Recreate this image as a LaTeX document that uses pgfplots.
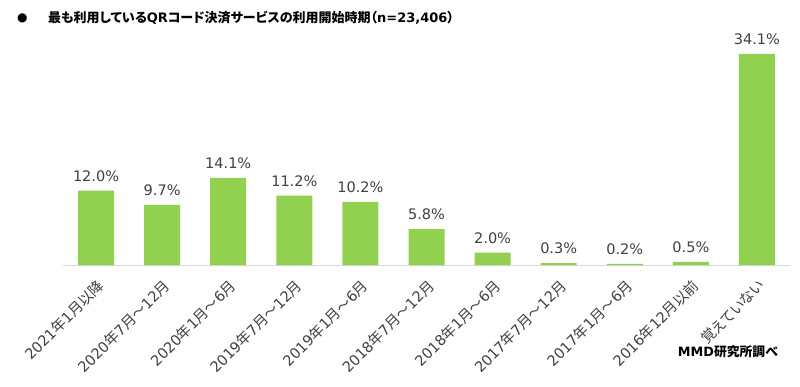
\documentclass[border=0pt]{standalone}
\usepackage{fontspec}
\setmainfont{DejaVu Sans}
\newfontfamily\cjk[RawFeature=+palt]{Noto Sans CJK JP}
\newcommand\J[1]{{\cjk #1}}
\usepackage{pgfplots}
\pgfplotsset{compat=1.18}
\definecolor{bargreen}{HTML}{92D050}
\definecolor{txt}{HTML}{404040}
\definecolor{axisgray}{HTML}{D9D9D9}
\begin{document}
\begin{tikzpicture}[x=1pt,y=1pt]
\path[use as bounding box] (0,0) rectangle (800,386);
\node[anchor=west, inner sep=0pt, font=\fontsize{12}{12}\selectfont] at (17,368) {●};
\node[anchor=west, inner sep=0pt, font=\fontsize{13}{13}\selectfont\bfseries] at (48,368)
  {\J{最も利用している}QR\J{コード決済サービスの利用開始時期（}n=23,406\J{）}};
\node[anchor=east, inner sep=0pt, font=\fontsize{12.8}{12.8}\selectfont\bfseries] at (778,34)
  {MMD\J{研究所調べ}};
\begin{axis}[
  at={(63pt,121pt)}, anchor=south west,
  scale only axis, width=727pt, height=211pt,
  xmin=-0.5, xmax=10.5, ymin=0, ymax=34.1,
  ybar, bar width=36pt, clip=false,
  axis y line=none, axis x line=bottom,
  x axis line style={draw=axisgray, line width=1pt, -},
  ytick=\empty,
  /pgf/number format/assume math mode=true,
  xtick={0,...,10}, major tick length=0pt,
  xticklabels={
    2021\J{年}1\J{月以降},
    2020\J{年}7\J{月～}12\J{月},
    2020\J{年}1\J{月～}6\J{月},
    2019\J{年}7\J{月～}12\J{月},
    2019\J{年}1\J{月～}6\J{月},
    2018\J{年}7\J{月～}12\J{月},
    2018\J{年}1\J{月～}6\J{月},
    2017\J{年}7\J{月～}12\J{月},
    2017\J{年}1\J{月～}6\J{月},
    2016\J{年}12\J{月以前},
    \J{覚えていない}},
  xticklabel style={font=\fontsize{14.5}{14.5}\selectfont, text=txt, xshift=5pt, rotate=45, anchor=east, inner sep=0pt},
  xticklabel shift=18pt,
  nodes near coords={\pgfmathprintnumber[fixed,fixed zerofill,precision=1]{\pgfplotspointmeta}\%},
  nodes near coords style={font=\fontsize{14.5}{14.5}\selectfont, text=txt, anchor=south, inner sep=0pt, yshift=9pt},
]
\addplot[fill=bargreen, draw=none] coordinates {
  (0,12.0) (1,9.7) (2,14.1) (3,11.2) (4,10.2) (5,5.8) (6,2.0) (7,0.3) (8,0.2) (9,0.5) (10,34.1)
};
\end{axis}
\end{tikzpicture}
\end{document}
